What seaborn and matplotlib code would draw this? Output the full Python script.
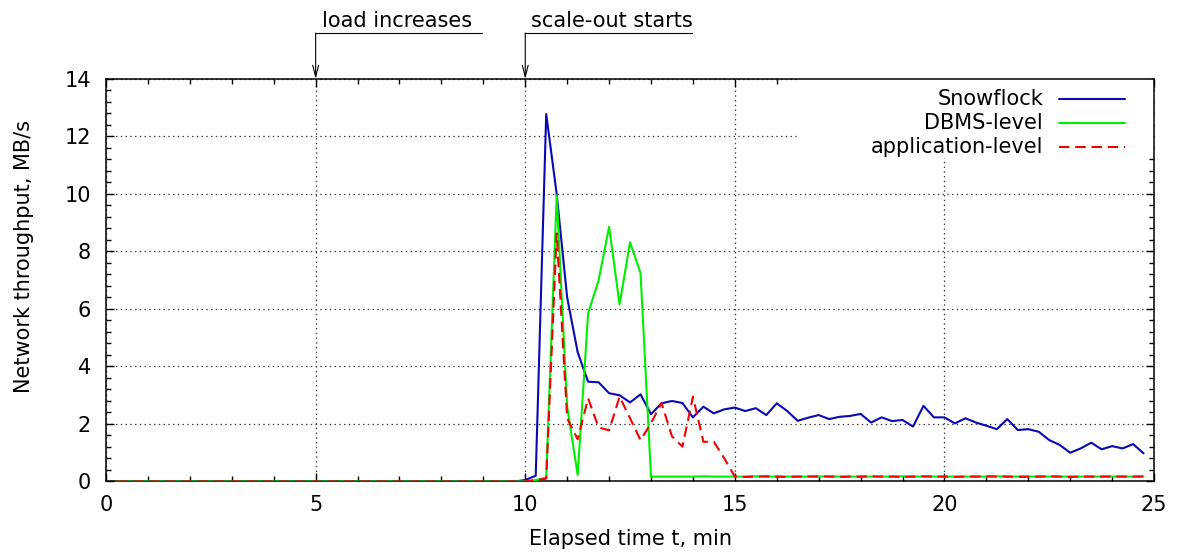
import numpy as np
import pandas as pd
import matplotlib
matplotlib.use("Agg")
import matplotlib.pyplot as plt
from matplotlib.lines import Line2D
from matplotlib.patches import Rectangle
from matplotlib.ticker import MultipleLocator
import seaborn as sns

# Sampling grid: one measurement every 15 s
time_min = np.arange(1, 100) * 0.25

# Network throughput, MB/s (first 39 samples, t = 0.25 .. 9.75, are idle)
idle = [0.0, 0.0, 0.0, 0.0, 0.0, 0.0, 0.0, 0.0, 0.0, 0.0,
        0.0, 0.0, 0.0, 0.0, 0.0, 0.0, 0.0, 0.0, 0.0, 0.0,
        0.0, 0.0, 0.0, 0.0, 0.0, 0.0, 0.0, 0.0, 0.0, 0.0,
        0.0, 0.0, 0.0, 0.0, 0.0, 0.0, 0.0, 0.0, 0.0]

snowflock = idle + [
    0.05, 0.20, 12.78, 10.00, 6.40, 4.50, 3.47, 3.45, 3.07, 3.00,
    2.75, 3.03, 2.34, 2.72, 2.80, 2.73, 2.23, 2.60, 2.37, 2.51,
    2.57, 2.45, 2.55, 2.31, 2.72, 2.45, 2.11, 2.22, 2.31, 2.17,
    2.25, 2.28, 2.35, 2.05, 2.23, 2.10, 2.14, 1.91, 2.63, 2.23,
    2.23, 2.02, 2.20, 2.05, 1.94, 1.82, 2.17, 1.79, 1.82, 1.73,
    1.44, 1.27, 1.00, 1.15, 1.35, 1.12, 1.23, 1.15, 1.30, 0.98]

dbms_level = idle + [
    0.00, 0.05, 0.13, 9.95, 2.60, 0.23, 5.85, 7.00, 8.86, 6.16,
    8.32, 7.25, 0.17, 0.17, 0.17, 0.17, 0.17, 0.18, 0.17, 0.17,
    0.17, 0.17, 0.18, 0.17, 0.17, 0.17, 0.17, 0.17, 0.17, 0.18,
    0.17, 0.17, 0.17, 0.17, 0.17, 0.17, 0.18, 0.17, 0.17, 0.17,
    0.17, 0.17, 0.17, 0.17, 0.17, 0.18, 0.17, 0.17, 0.17, 0.17,
    0.17, 0.17, 0.17, 0.17, 0.17, 0.17, 0.17, 0.17, 0.17, 0.18]

application_level = idle + [
    0.00, 0.05, 0.10, 8.63, 2.20, 1.47, 2.89, 1.88, 1.78, 2.95,
    2.20, 1.44, 2.03, 2.73, 1.57, 1.21, 2.95, 1.38, 1.38, 0.80,
    0.17, 0.16, 0.17, 0.18, 0.17, 0.16, 0.17, 0.17, 0.18, 0.17,
    0.16, 0.17, 0.17, 0.18, 0.17, 0.17, 0.16, 0.17, 0.18, 0.17,
    0.17, 0.16, 0.17, 0.17, 0.18, 0.17, 0.17, 0.16, 0.17, 0.17,
    0.18, 0.17, 0.16, 0.17, 0.17, 0.17, 0.18, 0.17, 0.17, 0.17]

series_names = ["Snowflock", "DBMS-level", "application-level"]
series_colors = ["#0808b4", "#00ee00", "#f00000"]

events_t = [5, 10]
events_text = ["load increases", "scale-out starts"]

x_ticks = [0, 5, 10, 15, 20, 25]
y_ticks = [0, 2, 4, 6, 8, 10, 12, 14]

df = pd.DataFrame({
    "t": np.tile(time_min, 3),
    "value": snowflock + dbms_level + application_level,
    "series": np.repeat(series_names, len(time_min)),
})

sns.set_style("ticks")
plt.rcParams["font.family"] = ["DejaVu Sans"]
plt.rcParams["font.size"] = 15
plt.rcParams["text.color"] = "black"
plt.rcParams["axes.labelcolor"] = "black"
plt.rcParams["xtick.color"] = "black"
plt.rcParams["ytick.color"] = "black"

fig = plt.figure(figsize=(11.77, 5.54), dpi=100)
ax = fig.add_axes([0.0901, 0.1309, 0.9805 - 0.0901, 0.8574 - 0.1309])

line_width = 1.5
for name, color in zip(series_names, series_colors):
    sub = df[df["series"] == name]
    sns.lineplot(data=sub, x="t", y="value", ax=ax, color=color,
                 linewidth=line_width, legend=False, zorder=3,
                 estimator=None, sort=False)
    if name == "application-level":
        ax.lines[-1].set_dashes((5, 2.8))

ax.set_xlim(0, 25)
ax.set_ylim(0, 14)
ax.set_xticks(x_ticks)
ax.set_yticks(y_ticks)
ax.xaxis.set_minor_locator(MultipleLocator(1))
ax.yaxis.set_minor_locator(MultipleLocator(0.4))
ax.tick_params(which="both", direction="in", top=True, right=True,
               width=1.0, colors="black", labelcolor="black", labelsize=15)
ax.tick_params(axis="y", which="major", length=6, pad=11)
ax.tick_params(axis="x", which="major", length=6, pad=10)
ax.tick_params(which="minor", length=3.5)
for sp in ax.spines.values():
    sp.set_linewidth(1.1)
    sp.set_color("black")

# Dotted grid at major ticks
ax.set_axisbelow(True)
ax.grid(True, which="major", color="#444444", linewidth=0.9,
        linestyle=(0, (1.2, 2.6)))

ax.set_xlabel("Elapsed time t, min", fontsize=15, color="black")
ax.set_ylabel("Network throughput, MB/s", fontsize=15, color="black")
ax.xaxis.set_label_coords(0.5, -0.118)
ax.yaxis.set_label_coords(-0.069, 0.558)

# Key box (white, no border) that hides the grid behind it
ax.add_patch(Rectangle((0.661, 0.804), 0.339, 0.196, transform=ax.transAxes,
                       facecolor="white", edgecolor="none", zorder=1))
key_y = [0.950, 0.891, 0.832]
for name, color, yk in zip(series_names, series_colors, key_y):
    ax.text(0.894, yk, name, transform=ax.transAxes, ha="right",
            va="center", fontsize=15, color="black", zorder=4)
    ln = Line2D([0.909, 0.972], [yk, yk], transform=ax.transAxes,
                color=color, linewidth=line_width, zorder=4)
    if name == "application-level":
        ln.set_dashes((5, 2.8))
    ax.add_line(ln)

# Event markers above the plot
for t_ev, label in zip(events_t, events_text):
    ax.plot([t_ev, t_ev + 3.98], [15.6, 15.6], color="black", linewidth=0.8,
            clip_on=False, zorder=4)
    ax.annotate("", xy=(t_ev, 14.0), xytext=(t_ev, 15.6),
                arrowprops=dict(arrowstyle="->,head_length=0.55,head_width=0.14",
                                color="black", linewidth=0.8,
                                shrinkA=0, shrinkB=0),
                annotation_clip=False)
    ax.text(t_ev + 0.14, 15.82, label, ha="left", va="baseline",
            fontsize=15, color="black")

fig.savefig("out.png", dpi=100)
